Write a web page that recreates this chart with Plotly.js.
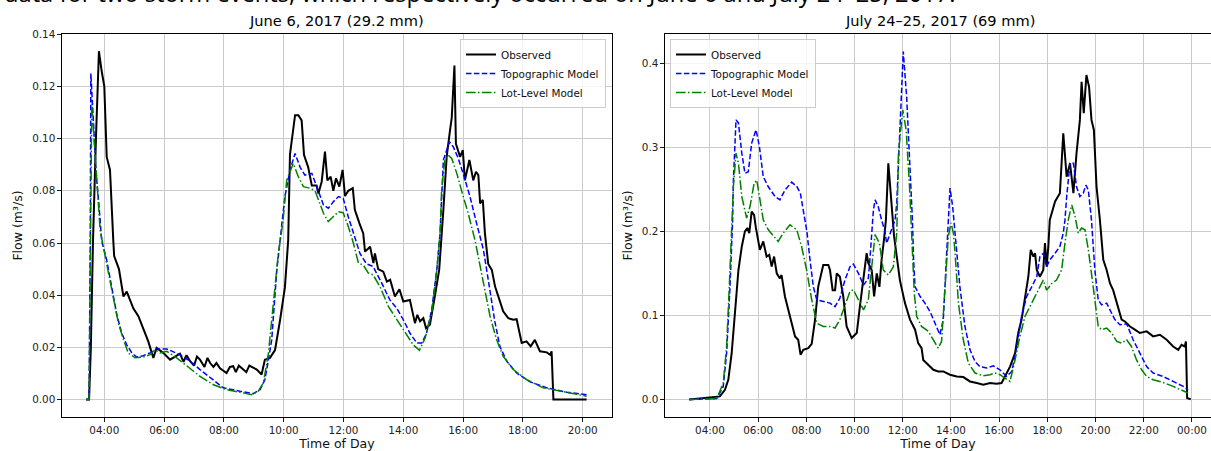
<!DOCTYPE html>
<html><head><meta charset="utf-8">
<script src="https://cdn.plot.ly/plotly-3.0.1.min.js"></script>
<style>html,body{margin:0;padding:0;background:#fff;}#chart{width:1211px;height:451px;}</style>
</head><body><div id="chart"></div>
<script>
// ---------- June 6, 2017 (hours of day, flow m3/s) ----------
const juneObsT = [3.39,3.49,3.55,3.62,3.72,3.78,3.82,3.91,4.0,4.08,4.19,4.30,4.33,4.49,4.64,4.75,4.97,5.14,5.30,5.47,5.64,5.75,5.97,6.20,6.53,6.65,6.75,6.87,7.0,7.1,7.2,7.35,7.45,7.54,7.65,7.75,7.87,8.09,8.2,8.31,8.4,8.5,8.65,8.75,8.85,8.98,9.1,9.26,9.37,9.54,9.71,9.88,10.04,10.15,10.21,10.38,10.49,10.60,10.68,10.82,10.94,11.1,11.16,11.27,11.38,11.46,11.57,11.66,11.75,11.86,11.97,12.05,12.16,12.31,12.38,12.53,12.66,12.72,12.89,13.0,13.05,13.16,13.33,13.45,13.56,13.72,13.87,14.0,14.22,14.39,14.47,14.56,14.67,14.76,14.89,15.06,15.2,15.34,15.45,15.56,15.62,15.71,15.76,15.90,15.99,16.06,16.21,16.34,16.43,16.51,16.57,16.66,16.73,16.84,16.96,17.07,17.23,17.34,17.51,17.68,17.79,17.96,18.12,18.26,18.40,18.57,18.80,18.91,18.96,19.02,20.13];
const juneObsQ = [0,0,0.02,0.06,0.10,0.125,0.1335,0.126,0.12,0.093,0.088,0.061,0.055,0.050,0.0395,0.0414,0.035,0.032,0.027,0.0223,0.016,0.0198,0.0179,0.0153,0.0176,0.0145,0.017,0.0147,0.013,0.0165,0.0153,0.0125,0.016,0.014,0.0125,0.014,0.012,0.0102,0.0125,0.0128,0.0105,0.013,0.0115,0.0105,0.013,0.0122,0.0115,0.0096,0.0153,0.016,0.019,0.0306,0.043,0.061,0.094,0.109,0.109,0.107,0.0937,0.089,0.082,0.082,0.079,0.0835,0.095,0.084,0.0854,0.080,0.0848,0.0816,0.088,0.078,0.080,0.081,0.0727,0.0676,0.0637,0.0567,0.0586,0.0523,0.056,0.050,0.049,0.0452,0.0459,0.0395,0.0423,0.0376,0.0382,0.0293,0.0325,0.030,0.0312,0.0274,0.0287,0.040,0.0497,0.0727,0.093,0.103,0.108,0.128,0.098,0.093,0.0956,0.084,0.0918,0.084,0.0873,0.086,0.0752,0.0765,0.0637,0.052,0.0497,0.0433,0.0376,0.0338,0.0312,0.0306,0.0308,0.0217,0.0223,0.0204,0.0229,0.0185,0.0181,0.0172,0.0185,0,0];
const juneTopoT = [3.39,3.49,3.53,3.55,3.63,3.72,3.86,3.91,4.08,4.25,4.41,4.58,4.75,4.92,5.08,5.30,5.53,5.75,6.09,6.53,6.87,7.2,7.54,7.98,8.54,8.98,9.21,9.37,9.49,9.60,9.77,9.93,10.04,10.21,10.38,10.55,10.71,10.94,11.16,11.33,11.49,11.66,11.83,11.99,12.16,12.33,12.55,12.77,12.99,13.28,13.55,13.78,14.0,14.22,14.45,14.62,14.78,14.95,15.12,15.23,15.34,15.45,15.54,15.67,15.84,16.0,16.23,16.45,16.68,16.84,16.96,17.06,17.23,17.46,17.79,18.24,18.80,19.47,20.13];
const juneTopoQ = [0,0,0.06,0.125,0.108,0.088,0.069,0.061,0.0535,0.043,0.033,0.0255,0.021,0.0179,0.0163,0.0168,0.0179,0.0194,0.0194,0.0172,0.0147,0.0115,0.0083,0.0045,0.0032,0.0023,0.0038,0.0076,0.0153,0.023,0.0497,0.066,0.0778,0.088,0.0943,0.089,0.086,0.0867,0.080,0.0746,0.0733,0.0758,0.0778,0.0771,0.070,0.0637,0.056,0.052,0.051,0.0446,0.0382,0.035,0.0306,0.0255,0.0217,0.0217,0.0255,0.0344,0.0497,0.0637,0.0918,0.0956,0.0988,0.0969,0.0924,0.0867,0.0778,0.0676,0.0574,0.046,0.038,0.030,0.0204,0.0147,0.0102,0.0068,0.0045,0.0028,0.0019];
const juneLotT = [3.39,3.49,3.53,3.58,3.75,3.86,4.08,4.30,4.47,4.64,4.80,5.03,5.30,5.53,5.70,5.86,6.09,6.42,6.76,7.2,7.65,8.09,8.54,8.93,9.15,9.32,9.49,9.65,9.82,9.97,10.10,10.32,10.49,10.66,10.88,11.05,11.16,11.33,11.49,11.66,11.83,11.99,12.16,12.33,12.5,12.66,12.83,12.99,13.22,13.5,13.78,14.06,14.33,14.54,14.73,14.95,15.12,15.23,15.28,15.39,15.5,15.62,15.79,15.95,16.17,16.40,16.57,16.73,16.9,17.12,17.34,17.68,18.13,18.68,19.47,20.13];
const juneLotQ = [0,0,0.05,0.1134,0.084,0.065,0.052,0.0395,0.0293,0.023,0.0179,0.016,0.0163,0.0172,0.0191,0.0179,0.0185,0.016,0.0128,0.0089,0.0057,0.0038,0.0028,0.0019,0.0032,0.0064,0.0179,0.037,0.056,0.0676,0.084,0.0905,0.0854,0.0816,0.081,0.080,0.0765,0.0714,0.0682,0.070,0.072,0.0716,0.0663,0.060,0.0523,0.0516,0.0485,0.0478,0.0433,0.0357,0.0306,0.0255,0.021,0.0189,0.0236,0.0331,0.0497,0.0637,0.080,0.0918,0.0937,0.0924,0.0867,0.080,0.0714,0.061,0.051,0.0408,0.032,0.023,0.0166,0.0115,0.0076,0.0045,0.0026,0.0013];

// ---------- July 24-25, 2017 ----------
const julyObsT = [3.14,3.72,4.41,4.62,4.76,4.90,5.04,5.18,5.32,5.45,5.55,5.63,5.73,5.83,5.90,6.0,6.07,6.21,6.35,6.46,6.56,6.66,6.77,6.90,6.97,7.11,7.32,7.53,7.66,7.76,7.87,8.08,8.22,8.36,8.49,8.70,8.91,8.98,9.09,9.19,9.26,9.39,9.53,9.67,9.88,10.09,10.22,10.36,10.5,10.57,10.71,10.81,10.92,11.03,11.12,11.22,11.30,11.40,11.54,11.64,11.88,12.09,12.30,12.51,12.64,12.78,12.85,13.06,13.27,13.47,13.68,13.96,14.24,14.51,14.79,15.07,15.34,15.62,15.89,16.10,16.24,16.45,16.66,16.79,16.93,17.07,17.21,17.31,17.42,17.49,17.56,17.69,17.83,17.90,17.97,18.04,18.10,18.18,18.32,18.52,18.66,18.80,18.94,19.08,19.21,19.35,19.42,19.51,19.62,19.73,19.83,19.93,20.04,20.18,20.32,20.46,20.60,20.73,20.94,21.08,21.22,21.43,21.63,21.84,22.12,22.39,22.67,22.95,23.22,23.43,23.57,23.70,23.75,23.80,23.95];
const julyObsQ = [0,0.0017,0.0036,0.0115,0.0234,0.055,0.1027,0.154,0.182,0.200,0.204,0.198,0.2235,0.2196,0.205,0.186,0.178,0.188,0.170,0.172,0.158,0.170,0.150,0.144,0.148,0.1225,0.0987,0.075,0.071,0.053,0.059,0.061,0.066,0.0948,0.134,0.160,0.160,0.154,0.130,0.130,0.150,0.146,0.1225,0.0868,0.073,0.079,0.1105,0.142,0.174,0.162,0.154,0.1225,0.150,0.134,0.166,0.190,0.2135,0.281,0.2295,0.194,0.142,0.1146,0.095,0.083,0.067,0.061,0.047,0.041,0.0353,0.0333,0.0333,0.0294,0.0274,0.0266,0.0214,0.0195,0.0175,0.0195,0.0187,0.0195,0.0274,0.039,0.055,0.079,0.095,0.1186,0.146,0.178,0.170,0.174,0.154,0.146,0.154,0.186,0.158,0.182,0.2135,0.2216,0.2355,0.2454,0.3167,0.265,0.281,0.2454,0.293,0.3326,0.378,0.3405,0.386,0.372,0.3326,0.3207,0.253,0.2135,0.166,0.154,0.138,0.130,0.1105,0.095,0.0928,0.0868,0.083,0.079,0.081,0.075,0.077,0.071,0.063,0.059,0.065,0.063,0.069,0.0017,0];
const julyTopoT = [3.14,4.28,4.55,4.69,4.83,4.94,4.97,5.08,5.18,5.32,5.45,5.59,5.73,5.91,6.05,6.21,6.42,6.70,6.90,7.11,7.39,7.61,7.75,7.88,8.02,8.15,8.29,8.43,8.70,8.98,9.19,9.39,9.60,9.81,9.95,10.16,10.37,10.57,10.62,10.70,10.78,10.85,10.98,11.12,11.26,11.33,11.47,11.68,11.75,11.88,12.02,12.16,12.30,12.40,12.45,12.51,12.72,12.92,13.13,13.34,13.54,13.68,13.82,13.96,14.07,14.17,14.37,14.58,14.79,15.0,15.2,15.48,15.76,16.03,16.31,16.52,16.73,16.93,17.14,17.35,17.56,17.69,17.83,17.97,18.1,18.32,18.52,18.66,18.73,18.80,18.94,19.08,19.21,19.35,19.49,19.60,19.70,19.83,19.97,20.11,20.25,20.46,20.60,20.80,21.01,21.29,21.56,21.84,22.12,22.39,22.80,23.22,23.64,23.84];
const julyTopoQ = [0,0.001,0.0155,0.055,0.134,0.2135,0.26,0.3326,0.329,0.293,0.269,0.271,0.305,0.3207,0.301,0.265,0.253,0.2414,0.2375,0.249,0.2585,0.253,0.2454,0.2256,0.200,0.166,0.134,0.1186,0.1165,0.1146,0.1105,0.1205,0.142,0.158,0.161,0.150,0.136,0.144,0.16,0.19,0.225,0.2375,0.2295,0.2137,0.2,0.186,0.198,0.2135,0.2335,0.3167,0.414,0.360,0.281,0.2135,0.165,0.134,0.1225,0.1146,0.1046,0.0908,0.077,0.095,0.174,0.2514,0.2295,0.2,0.134,0.0868,0.059,0.045,0.039,0.0373,0.040,0.0353,0.0274,0.0333,0.063,0.0987,0.1225,0.134,0.146,0.170,0.174,0.158,0.166,0.174,0.182,0.198,0.2135,0.241,0.281,0.281,0.253,0.2414,0.2454,0.255,0.249,0.2137,0.154,0.1186,0.1126,0.1146,0.1066,0.095,0.0888,0.090,0.071,0.055,0.039,0.0314,0.0274,0.0214,0.0155,0.0115];
const julyLotT = [3.14,4.28,4.55,4.69,4.80,4.90,4.97,5.08,5.18,5.32,5.52,5.66,5.83,5.94,6.07,6.21,6.42,6.63,6.83,7.04,7.32,7.60,7.80,8.01,8.22,8.43,8.70,8.98,9.19,9.39,9.60,9.81,9.95,10.16,10.37,10.57,10.71,10.85,11.03,11.19,11.40,11.61,11.75,11.82,12.0,12.14,12.28,12.41,12.48,12.58,12.78,13.06,13.27,13.47,13.61,13.75,13.89,14.0,14.10,14.17,14.31,14.51,14.72,15.0,15.34,15.62,15.82,16.03,16.31,16.45,16.66,16.86,17.07,17.28,17.49,17.69,17.83,17.97,18.18,18.38,18.59,18.73,18.87,19.01,19.15,19.28,19.42,19.56,19.70,19.83,19.97,20.11,20.25,20.46,20.67,20.88,21.08,21.29,21.49,21.70,21.91,22.12,22.39,22.80,23.22,23.84];
const julyLotQ = [0,0.001,0.0195,0.063,0.134,0.2135,0.253,0.293,0.281,0.2414,0.2157,0.2295,0.257,0.261,0.2375,0.2137,0.2018,0.194,0.188,0.198,0.2077,0.2018,0.182,0.154,0.1186,0.0908,0.0868,0.0868,0.085,0.095,0.1126,0.1284,0.1305,0.1186,0.1066,0.1186,0.162,0.196,0.186,0.154,0.148,0.158,0.198,0.293,0.3445,0.3207,0.253,0.17,0.125,0.0987,0.0868,0.081,0.071,0.061,0.069,0.134,0.194,0.21,0.198,0.174,0.1146,0.071,0.0433,0.0314,0.0282,0.0294,0.0314,0.0294,0.0234,0.0214,0.047,0.075,0.0987,0.1105,0.1225,0.134,0.142,0.130,0.138,0.142,0.154,0.186,0.2137,0.2315,0.2176,0.198,0.204,0.2018,0.178,0.150,0.1186,0.0868,0.083,0.085,0.079,0.069,0.067,0.071,0.063,0.047,0.0353,0.0274,0.0234,0.0202,0.0155,0.0076];

// ---------- labels ----------
const seriesNames = ['Observed','Topographic Model','Lot-Level Model'];
const juneTickVals = [4,6,8,10,12,14,16,18,20];
const juneTickText = ['04:00','06:00','08:00','10:00','12:00','14:00','16:00','18:00','20:00'];
const julyTickVals = [4,6,8,10,12,14,16,18,20,22,24];
const julyTickText = ['04:00','06:00','08:00','10:00','12:00','14:00','16:00','18:00','20:00','22:00','00:00'];
const juneTitle = 'June 6, 2017 (29.2 mm)';
const julyTitle = 'July 24–25, 2017 (69 mm)';
const captionText = 'data for two storm events, which respectively occurred on June 6 and July 24–25, 2017.';

const styles = [
  {color:'#000000', width:2, dash:'solid'},
  {color:'#0000ff', width:1.5, dash:'5.5px,2.4px'},
  {color:'#008000', width:1.5, dash:'9.6px,2.4px,1.5px,2.4px'}
];
function mk(x, y, i, xa, ya, lg){
  return {x:x, y:y, type:'scatter', mode:'lines', name:seriesNames[i], line:styles[i],
          xaxis:xa, yaxis:ya, legend:lg, hoverinfo:'skip'};
}
const traces = [
  mk(juneObsT, juneObsQ, 0, 'x', 'y', 'legend'),
  mk(juneTopoT, juneTopoQ, 1, 'x', 'y', 'legend'),
  mk(juneLotT, juneLotQ, 2, 'x', 'y', 'legend'),
  mk(julyObsT, julyObsQ, 0, 'x2', 'y2', 'legend2'),
  mk(julyTopoT, julyTopoQ, 1, 'x2', 'y2', 'legend2'),
  mk(julyLotT, julyLotQ, 2, 'x2', 'y2', 'legend2')
];

const W = 1211, H = 451, ML = 62, MT = 34, MB = 33.7;
const PW = W - ML, PH = H - MT - MB;
const px2x = p => (p - ML) / PW;
const py2y = p => (H - MB - p) / PH;

const axisCommon = {
  ticks:'outside', ticklen:3.6, tickwidth:0.9, tickcolor:'#000',
  showline:true, linecolor:'#000', linewidth:1,
  showgrid:true, gridcolor:'#cbcbcb', gridwidth:1, zeroline:false,
  automargin:false, fixedrange:true,
  tickfont:{family:'DejaVu Sans', size:10.4, color:'#222'}
};
const xTitle = {text:'Time of Day', font:{family:'DejaVu Sans', size:12.5, color:'#111'}, standoff:4};
const yTitle = {text:'Flow (m³/s)', font:{family:'DejaVu Sans', size:12.5, color:'#111'}, standoff:6};

const legendCommon = {
  bgcolor:'rgba(255,255,255,0.8)', bordercolor:'#cccccc', borderwidth:1,
  font:{family:'DejaVu Sans', size:10.4, color:'#111'}, yanchor:'top', tracegroupgap:0
};

const layout = {
  width:W, height:H,
  margin:{l:ML, r:0, t:MT, b:MB, pad:0},
  paper_bgcolor:'#ffffff', plot_bgcolor:'#ffffff',
  font:{family:'DejaVu Sans', size:10.4, color:'#111'},
  showlegend:true,
  xaxis:Object.assign({}, axisCommon, {domain:[0, px2x(612)], anchor:'y', range:[2.585, 20.98],
        tickmode:'array', tickvals:juneTickVals, ticktext:juneTickText, mirror:true, title:xTitle}),
  yaxis:Object.assign({}, axisCommon, {domain:[0,1], anchor:'x', range:[-0.00667, 0.1401],
        tick0:0, dtick:0.02, tickformat:'.2f', mirror:true, title:yTitle}),
  xaxis2:Object.assign({}, axisCommon, {domain:[px2x(665), 1], anchor:'y2', range:[2.133, 24.79],
        tickmode:'array', tickvals:julyTickVals, ticktext:julyTickText, mirror:true, title:xTitle}),
  yaxis2:Object.assign({}, axisCommon, {domain:[0,1], anchor:'x2', range:[-0.0209, 0.4348],
        tick0:0, dtick:0.1, tickformat:'.1f', mirror:false, title:yTitle}),
  legend:Object.assign({}, legendCommon, {x:px2x(606), xanchor:'right', y:py2y(39)}),
  legend2:Object.assign({}, legendCommon, {x:px2x(670), xanchor:'left', y:py2y(39)}),
  annotations:[
    {text:captionText, xref:'paper', yref:'paper', x:px2x(2), y:py2y(11), xanchor:'left', yanchor:'bottom',
     showarrow:false, font:{family:'Open Sans', size:23.7, color:'#000'}},
    {text:juneTitle, xref:'paper', yref:'paper', x:px2x(336), y:py2y(31), xanchor:'center', yanchor:'bottom',
     showarrow:false, font:{family:'DejaVu Sans', size:14.6, color:'#000'}},
    {text:julyTitle, xref:'paper', yref:'paper', x:px2x(940), y:py2y(31), xanchor:'center', yanchor:'bottom',
     showarrow:false, font:{family:'DejaVu Sans', size:14.6, color:'#000'}}
  ]
};

Plotly.newPlot('chart', traces, layout, {staticPlot:true, displayModeBar:false});
</script>
</body></html>
